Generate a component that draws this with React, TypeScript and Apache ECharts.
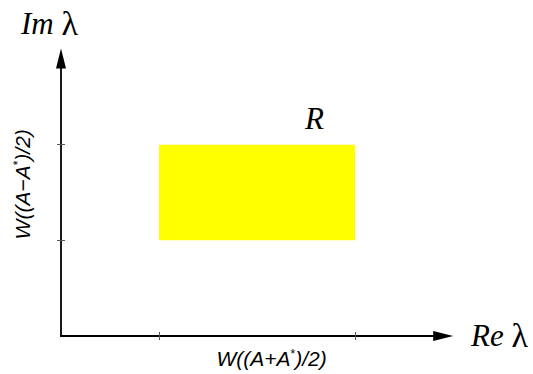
import React, { useEffect, useRef } from "react";
import * as echarts from "echarts";

// Axis extents (data units) and tick positions
const xExtent = [0, 3.9];
const yExtent = [0, 2.9];
const xTicks = [1, 3];
const yTicks = [1, 2];

// Region R: [min, max] along each axis
const regionX = [1, 3];
const regionY = [1, 2];

const xName = ["W((A+A", "*", ")/2)"];
const yName = ["W((A\u2212A", "*", ")/2)"];

const sans = "'Liberation Sans', Arial, sans-serif";
const serif = "'Liberation Serif', 'Times New Roman', serif";

const nameRich = {
  n: { fontFamily: sans, fontStyle: "italic", fontSize: 21, color: "#000" },
  s: { fontFamily: sans, fontStyle: "normal", fontSize: 12, color: "#000", verticalAlign: "top" },
};

const greekRich = {
  i: { fontFamily: serif, fontStyle: "italic", fontSize: 31, fill: "#000" },
  g: { fontFamily: serif, fontStyle: "normal", fontSize: 34, fill: "#000" },
};

function baseAxis(ext: number[]) {
  return {
    type: "value",
    min: ext[0],
    max: ext[1],
    splitLine: { show: false },
    axisLabel: { show: false },
  };
}

export default function App() {
  const ref = useRef<HTMLDivElement>(null);

  useEffect(() => {
    if (!ref.current) return;
    const chart = echarts.init(ref.current, null, { renderer: "svg" });
    const axisLine = {
      show: true,
      symbol: ["none", "triangle"],
      symbolSize: [10, 20],
      lineStyle: { color: "#000", width: 1.8 },
    };
    const tick = (ticks: number[], inside: boolean) => ({
      show: true,
      inside,
      length: 4,
      customValues: ticks,
      lineStyle: { color: "#555", width: 1 },
    });
    chart.setOption({
      animation: false,
      grid: { left: 61, top: 58.6, right: 89.8, bottom: 37, containLabel: false },
      xAxis: [
        {
          ...baseAxis(xExtent),
          position: "bottom",
          axisLine,
          axisTick: tick(xTicks, false),
          name: `{n|${xName[0]}}{s|${xName[1]}}{n|${xName[2]}}`,
          nameLocation: "middle",
          nameGap: 12,
          nameTextStyle: { rich: nameRich, padding: [0, 0, 0, 39] },
        },
        {
          ...baseAxis(xExtent),
          position: "bottom",
          axisLine: { show: false },
          axisTick: tick(xTicks, true),
        },
      ],
      yAxis: [
        {
          ...baseAxis(yExtent),
          position: "left",
          axisLine,
          axisTick: tick(yTicks, false),
          name: `{n|${yName[0]}}{s|${yName[1]}}{n|${yName[2]}}`,
          nameLocation: "middle",
          nameRotate: 90,
          nameGap: 28,
          nameTextStyle: { rich: nameRich, padding: [0, 0, 0, 26] },
        },
        {
          ...baseAxis(yExtent),
          position: "left",
          axisLine: { show: false },
          axisTick: tick(yTicks, true),
        },
      ],
      series: [
        {
          type: "custom",
          xAxisIndex: 0,
          yAxisIndex: 0,
          data: [[regionX[0], regionX[1], regionY[0], regionY[1]]],
          renderItem: (_params: any, api: any) => {
            const p0 = api.coord([api.value(0), api.value(3)]);
            const p1 = api.coord([api.value(1), api.value(2)]);
            return {
              type: "rect",
              shape: { x: p0[0], y: p0[1], width: p1[0] - p0[0], height: p1[1] - p0[1] },
              style: { fill: "#ffff00" },
            };
          },
        },
      ],
      graphic: [
        {
          type: "text",
          left: 21,
          top: 6,
          style: { text: "{i|Im\u00a0}{g|\u03bb}", rich: greekRich },
        },
        {
          type: "text",
          left: 471,
          top: 318,
          style: { text: "{i|Re\u00a0}{g|\u03bb}", rich: greekRich },
        },
        {
          type: "text",
          left: 305,
          top: 103,
          style: {
            text: "R",
            fontFamily: serif,
            fontStyle: "italic",
            fontSize: 31,
            fill: "#000",
          },
        },
      ],
    });
    return () => chart.dispose();
  }, []);

  return (
    <div
      ref={ref}
      style={{ position: "fixed", left: 0, top: 0, width: 533, height: 374, background: "#fff" }}
    />
  );
}
